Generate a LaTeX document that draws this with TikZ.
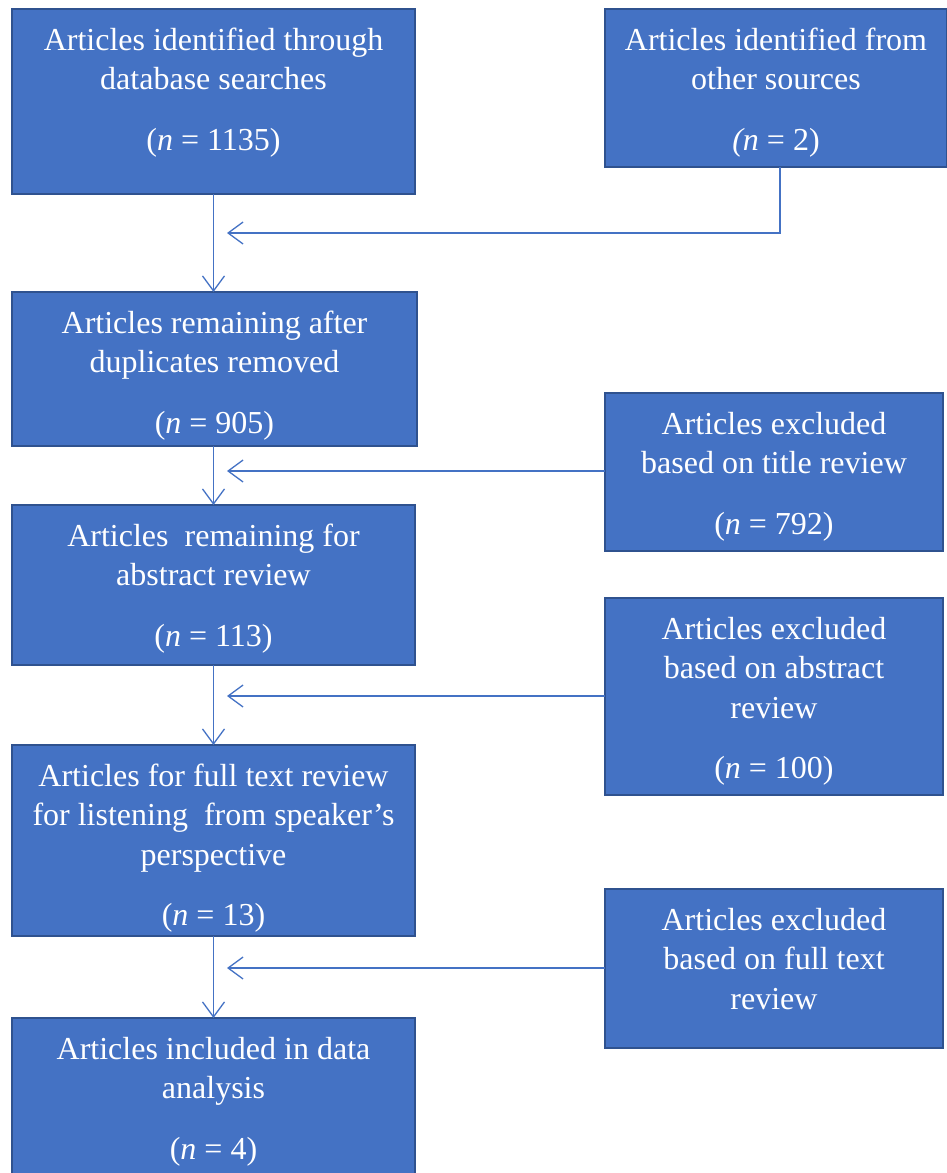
\documentclass[tikz,border=0pt]{standalone}
\usepackage{fontspec}
\setmainfont{Liberation Serif}
\usetikzlibrary{arrows.meta}
\definecolor{boxfill}{HTML}{4472C4}
\definecolor{boxline}{HTML}{2F528F}
\definecolor{arrowc}{HTML}{4472C4}
\newcommand{\bxt}[3]{\parbox[c][#2][t]{#1}{\centering\fontsize{32}{39.5}\selectfont\rule{0pt}{41pt}#3}}
\begin{document}
\begin{tikzpicture}[x=1pt,y=-1pt,
  box/.style={draw=boxline, fill=boxfill, line width=2pt, inner sep=0pt, outer sep=0pt, anchor=north west, text=white},
  arr/.style={draw=arrowc, line width=1.3pt, -{Straight Barb[length=15pt,width=22pt,line width=1.3pt]}}]
\useasboundingbox (0,0) rectangle (946,1173);
\node[box] (b1) at (12,9) {\bxt{403pt}{185pt}{Articles identified through\\ database searches\\[21pt] (\textit{n} = 1135)}};
\node[box] (b2) at (605,9) {\bxt{342pt}{158pt}{Articles identified from\\ other sources\\[21pt] \textit{(n} = 2)}};
\node[box] (b3) at (12,292) {\bxt{405pt}{154pt}{Articles remaining after\\ duplicates removed\\[21pt] (\textit{n} = 905)}};
\node[box] (b4) at (605,393) {\bxt{338pt}{158pt}{Articles excluded\\ based on title review\\[21pt] (\textit{n} = 792)}};
\node[box] (b5) at (12,505) {\bxt{403pt}{160pt}{Articles~ remaining for\\ abstract review\\[21pt] (\textit{n} = 113)}};
\node[box] (b6) at (605,598) {\bxt{338pt}{197pt}{Articles excluded\\ based on abstract\\ review\\[21pt] (\textit{n} = 100)}};
\node[box] (b7) at (12,745) {\bxt{403pt}{191pt}{Articles for full text review\\ for listening~ from speaker’s\\ perspective\\[21pt] (\textit{n} = 13)}};
\node[box] (b8) at (605,889) {\bxt{338pt}{159pt}{Articles excluded\\ based on full text\\ review}};
\node[box] (b9) at (12,1018) {\bxt{403pt}{172pt}{Articles included in data\\ analysis\\[21pt] (\textit{n} = 4)}};
\coordinate (j1) at (227,233);
\coordinate (j2) at (227,471);
\coordinate (j3) at (227,696);
\coordinate (j4) at (227,968);
\draw[arr] (b1.south) -- (b1.south |- b3.north);
\draw[arr] (b3.south -| b1.south) -- (b1.south |- b5.north);
\draw[arr] (b5.south) -- (b5.south |- b7.north);
\draw[arr] (b7.south) -- (b7.south |- b9.north);
\draw[arr] ([xshift=4pt]b2.south) |- (j1);
\draw[arr] (b4.west |- j2) -- (j2);
\draw[arr] (b6.west |- j3) -- (j3);
\draw[arr] (b8.west |- j4) -- (j4);
\end{tikzpicture}
\end{document}
